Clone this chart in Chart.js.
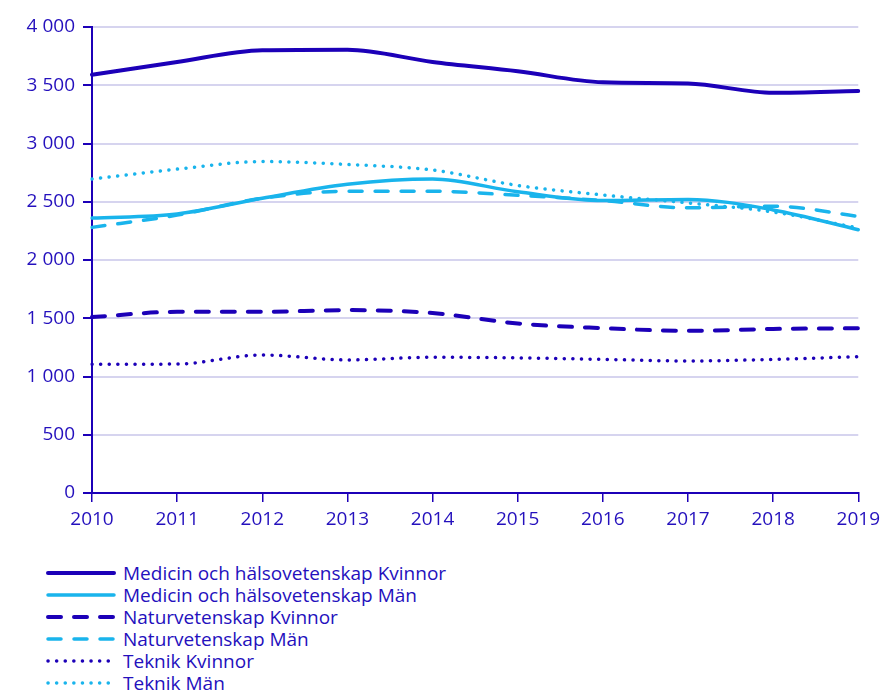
<!DOCTYPE html>
<html>
<head>
<meta charset="utf-8">
<script src="https://cdn.jsdelivr.net/npm/chart.js@4"></script>
<style>
  html, body { margin: 0; padding: 0; background: #fff; }
  #wrap { position: relative; width: 886px; height: 545px; }
  #legend { position: absolute; left: 44px; top: 562px; font-family: "Open Sans", sans-serif; font-size: 19px; color: #2410bd; }
  #legend .row { display: flex; align-items: center; height: 22px; }
  #legend svg { margin-right: 5px; }
</style>
</head>
<body>
<div id="wrap"><canvas id="chart"></canvas></div>
<div id="legend"></div>
<script>
const years = ['2010', '2011', '2012', '2013', '2014', '2015', '2016', '2017', '2018', '2019'];
const yTicks = [0, 500, 1000, 1500, 2000, 2500, 3000, 3500, 4000];

const medicinKvinnor = [3590, 3700, 3800, 3805, 3700, 3620, 3525, 3515, 3435, 3450];
const medicinMan = [2360, 2395, 2530, 2650, 2695, 2585, 2510, 2520, 2430, 2260];
const naturKvinnor = [1510, 1555, 1555, 1570, 1545, 1455, 1415, 1392, 1408, 1414];
const naturMan = [2280, 2385, 2530, 2590, 2590, 2555, 2510, 2448, 2462, 2375];
const teknikKvinnor = [1105, 1107, 1185, 1142, 1165, 1160, 1147, 1133, 1147, 1170];
const teknikMan = [2695, 2780, 2845, 2820, 2772, 2640, 2558, 2490, 2412, 2275];

const DARK = '#1c00b8';
const LIGHT = '#19b4ec';
const TEXT = '#2410bd';
const GRID = '#d6d4ef';

const dashed = [13, 13];
const dotted = [0.1, 8.5];

function series(label, data, color, dash, width) {
  return {
    label,
    data,
    borderColor: color,
    backgroundColor: color,
    borderWidth: width,
    borderDash: dash,
    borderCapStyle: 'round',
    pointRadius: 0,
    cubicInterpolationMode: 'monotone',
    fill: false
  };
}

const datasets = [
  series('Medicin och hälsovetenskap Kvinnor', medicinKvinnor, DARK, [], 4),
  series('Medicin och hälsovetenskap Män', medicinMan, LIGHT, [], 3.5),
  series('Naturvetenskap Kvinnor', naturKvinnor, DARK, dashed, 4),
  series('Naturvetenskap Män', naturMan, LIGHT, dashed, 3.5),
  series('Teknik Kvinnor', teknikKvinnor, DARK, dotted, 3.5),
  series('Teknik Män', teknikMan, LIGHT, dotted, 3.5)
];

const font = { family: '"Open Sans", sans-serif', size: 19 };

new Chart(document.getElementById('chart').getContext('2d'), {
  type: 'line',
  data: { labels: years, datasets },
  options: {
    responsive: true,
    maintainAspectRatio: false,
    animation: false,
    layout: { padding: { top: 27, right: 27, left: 0, bottom: 0 } },
    plugins: { legend: { display: false }, tooltip: { enabled: false } },
    scales: {
      x: {
        offset: false,
        grid: { drawOnChartArea: false, drawTicks: true, tickLength: 9, color: DARK, lineWidth: 1.5 },
        border: { color: DARK, width: 2 },
        ticks: { color: TEXT, font, padding: 6, maxRotation: 0, autoSkip: false },
        afterFit: (s) => { s.height = 52; }
      },
      y: {
        min: 0,
        max: 4000,
        afterBuildTicks: (s) => { s.ticks = yTicks.map((v) => ({ value: v })); },
        grid: { color: GRID, lineWidth: 2, drawTicks: true, tickLength: 9, tickColor: DARK },
        border: { color: DARK, width: 2 },
        ticks: {
          color: TEXT,
          font,
          padding: 8,
          callback: (v) => String(v).replace(/\B(?=(\d{3})+(?!\d))/g, ' ')
        },
        afterFit: (s) => { s.width = 92; }
      }
    }
  }
});

// legend: one entry per line, swatch drawn from dataset style
const legend = document.getElementById('legend');
datasets.forEach((ds) => {
  const row = document.createElement('div');
  row.className = 'row';
  const dash = ds.borderDash.length ? ds.borderDash.join(' ') : 'none';
  row.innerHTML =
    '<svg width="74" height="10"><line x1="4" y1="5" x2="70" y2="5" stroke="' + ds.borderColor +
    '" stroke-width="' + ds.borderWidth + '" stroke-linecap="round" stroke-dasharray="' + dash + '"/></svg>' +
    '<span>' + ds.label + '</span>';
  legend.appendChild(row);
});
</script>
</body>
</html>
